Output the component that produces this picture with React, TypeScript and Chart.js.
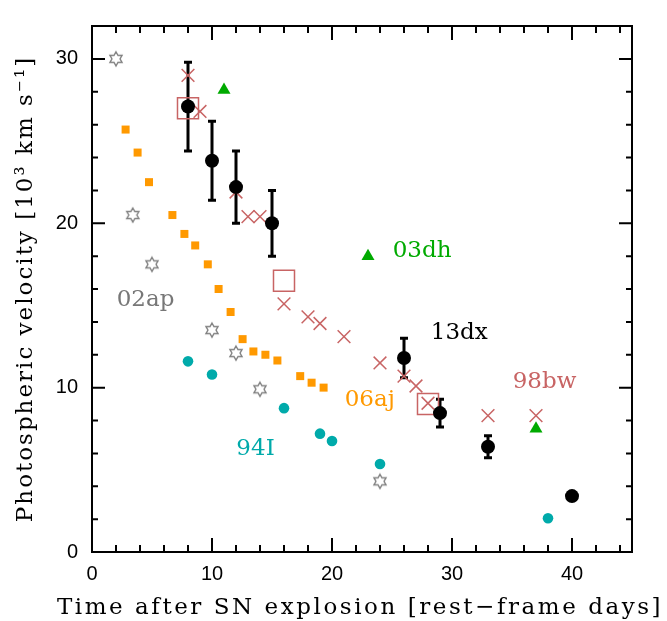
import React, { useEffect, useRef } from 'react';
import { Chart, registerables } from 'chart.js';

Chart.register(...registerables);

// ---- data (days after explosion, photospheric velocity in 10^3 km/s) ----
const sn13dxDays = [8, 10, 12, 15, 26, 29, 33, 40];
const sn13dxVel = [27.1, 23.8, 22.2, 20.0, 11.8, 8.45, 6.4, 3.4];
const sn13dxErr = [2.7, 2.4, 2.2, 2.0, 1.2, 0.85, 0.67, 0.2];

const sn98bwDays = [8, 9, 12, 13, 14, 16, 18, 19, 21, 24, 26, 27, 28, 33, 37];
const sn98bwVel = [29.0, 26.8, 21.9, 20.4, 20.4, 15.1, 14.3, 13.9, 13.1, 11.5, 10.7, 10.1, 9.05, 8.3, 8.3];

const sn98bwBoxDays = [8, 16, 28];
const sn98bwBoxVel = [27.0, 16.5, 9.0];

const sn03dhDays = [11, 23, 37];
const sn03dhVel = [28.1, 18.0, 7.5];

const sn06ajDays = [2.8, 3.8, 4.75, 6.7, 7.7, 8.6, 9.65, 10.55, 11.55, 12.55, 13.45, 14.45, 15.45, 17.35, 18.3, 19.3];
const sn06ajVel = [25.7, 24.3, 22.5, 20.5, 19.35, 18.65, 17.5, 16.0, 14.6, 12.95, 12.2, 12.0, 11.65, 10.7, 10.3, 10.0];

const sn94IDays = [8, 10, 16, 19, 20, 24, 38];
const sn94IVel = [11.6, 10.8, 8.75, 7.2, 6.75, 5.35, 2.05];

const sn02apDays = [2, 3.4, 5, 10, 12, 14, 24];
const sn02apVel = [30.0, 20.5, 17.5, 13.5, 12.1, 9.9, 4.3];

const xTickLabels = [0, 10, 20, 30, 40];
const yTickLabels = [0, 10, 20, 30];

const labelTexts = ['02ap', '03dh', '13dx', '98bw', '06aj', '94I'];

// ---- styling / layout ----
const RED = '#c86464';
const GREEN = '#00aa00';
const ORANGE = '#ff9900';
const CYAN = '#00aaaa';
const GREY = '#808080';
const labelColors = ['#777777', GREEN, '#000000', RED, ORANGE, CYAN];
// label anchors in data coordinates (left edge, baseline)
const labelAnchorX = [2.06, 25.06, 28.23, 35.06, 21.06, 12.03];
const labelAnchorY = [14.95, 17.92, 12.93, 9.96, 8.91, 5.88];

const X_MIN = 0, X_MAX = 45, Y_MIN = 0, Y_MAX = 32;
const TITLE_FONT = 'DejaVu Serif';

function makeHexagram(color: string): HTMLCanvasElement {
  const size = 18;
  const c = document.createElement('canvas');
  c.width = size;
  c.height = size;
  const g = c.getContext('2d')!;
  const cx = size / 2, cy = size / 2, R = 7, r = R / Math.sqrt(3);
  g.beginPath();
  for (let k = 0; k < 12; k++) {
    const ang = -Math.PI / 2 + (k * Math.PI) / 6;
    const rad = k % 2 === 0 ? R : r;
    const px = cx + rad * Math.cos(ang);
    const py = cy + rad * Math.sin(ang);
    if (k === 0) g.moveTo(px, py);
    else g.lineTo(px, py);
  }
  g.closePath();
  g.strokeStyle = color;
  g.lineWidth = 1.4;
  g.stroke();
  return c;
}

const pts = (xs: number[], ys: number[]) => xs.map((x, i) => ({ x, y: ys[i] }));

const decorPlugin = {
  id: 'decor',
  beforeDatasetsDraw(chart: any) {
    const { ctx } = chart;
    const xs = chart.scales.x, ys = chart.scales.y;
    ctx.save();
    ctx.strokeStyle = '#000';
    ctx.lineWidth = 3;
    sn13dxDays.forEach((d, i) => {
      const px = xs.getPixelForValue(d);
      const top = ys.getPixelForValue(sn13dxVel[i] + sn13dxErr[i]);
      const bot = ys.getPixelForValue(sn13dxVel[i] - sn13dxErr[i]);
      ctx.beginPath();
      ctx.moveTo(px, top);
      ctx.lineTo(px, bot);
      ctx.moveTo(px - 4, top);
      ctx.lineTo(px + 4, top);
      ctx.moveTo(px - 4, bot);
      ctx.lineTo(px + 4, bot);
      ctx.stroke();
    });
    ctx.restore();
  },
  afterDatasetsDraw(chart: any) {
    const { ctx, chartArea: a } = chart;
    const xs = chart.scales.x, ys = chart.scales.y;
    ctx.save();
    // frame
    ctx.strokeStyle = '#000';
    ctx.lineWidth = 2;
    ctx.strokeRect(a.left, a.top, a.right - a.left, a.bottom - a.top);
    // ticks (inward, all four sides)
    ctx.beginPath();
    for (let v = X_MIN + 2; v < X_MAX; v += 2) {
      const len = v % 10 === 0 ? 14 : 7;
      const px = xs.getPixelForValue(v);
      ctx.moveTo(px, a.bottom);
      ctx.lineTo(px, a.bottom - len);
      ctx.moveTo(px, a.top);
      ctx.lineTo(px, a.top + len);
    }
    for (let v = Y_MIN; v <= Y_MAX; v += 2) {
      const len = v % 10 === 0 ? 13 : 6;
      const py = ys.getPixelForValue(v);
      ctx.moveTo(a.left, py);
      ctx.lineTo(a.left + len, py);
      ctx.moveTo(a.right, py);
      ctx.lineTo(a.right - len, py);
    }
    ctx.stroke();

    // in-plot labels
    ctx.font = `23px "${TITLE_FONT}"`;
    ctx.textAlign = 'left';
    ctx.textBaseline = 'alphabetic';
    labelTexts.forEach((t, i) => {
      ctx.fillStyle = labelColors[i];
      ctx.fillText(t, xs.getPixelForValue(labelAnchorX[i]), ys.getPixelForValue(labelAnchorY[i]));
    });

    // axis titles
    ctx.fillStyle = '#000';
    ctx.textAlign = 'center';
    try { (ctx as any).letterSpacing = '2.55px'; } catch (e) { /* ignore */ }
    ctx.fillText('Time after SN explosion [rest\u2212frame days]', (a.left + a.right) / 2 - 2, 614);
    try { (ctx as any).letterSpacing = '2px'; } catch (e) { /* ignore */ }
    ctx.translate(32, (a.top + a.bottom) / 2);
    ctx.rotate(-Math.PI / 2);
    ctx.fillText('Photospheric velocity [10\u00b3 km s\u207b\u00b9]', 0, 0);
    ctx.restore();
  },
};

export default function App() {
  const ref = useRef<HTMLCanvasElement>(null);
  useEffect(() => {
    const star = makeHexagram(GREY);
    const chart = new Chart(ref.current!, {
      type: 'scatter',
      data: {
        datasets: [
          {
            label: '13dx',
            data: pts(sn13dxDays, sn13dxVel),
            pointStyle: 'circle',
            pointRadius: 7,
            backgroundColor: '#000',
            borderWidth: 0,
          },
          {
            label: '98bw',
            data: pts(sn98bwDays, sn98bwVel),
            pointStyle: 'crossRot',
            pointRadius: 9,
            borderColor: RED,
            borderWidth: 1.5,
          },
          {
            label: '98bw boxes',
            data: pts(sn98bwBoxDays, sn98bwBoxVel),
            pointStyle: 'rect',
            pointRadius: 14.85,
            backgroundColor: 'rgba(0,0,0,0)',
            borderColor: RED,
            borderWidth: 1.5,
          },
          {
            label: '03dh',
            data: pts(sn03dhDays, sn03dhVel),
            pointStyle: 'triangle',
            pointRadius: 7.5,
            backgroundColor: GREEN,
            borderWidth: 0,
          },
          {
            label: '06aj',
            data: pts(sn06ajDays, sn06ajVel),
            pointStyle: 'rect',
            pointRadius: 5.66,
            backgroundColor: ORANGE,
            borderWidth: 0,
          },
          {
            label: '94I',
            data: pts(sn94IDays, sn94IVel),
            pointStyle: 'circle',
            pointRadius: 5.3,
            backgroundColor: CYAN,
            borderWidth: 0,
          },
          {
            label: '02ap',
            data: pts(sn02apDays, sn02apVel),
            pointStyle: star as any,
            pointRadius: 7,
            borderWidth: 0,
          },
        ],
      },
      options: {
        animation: false,
        responsive: true,
        maintainAspectRatio: false,
        events: [],
        layout: { padding: { left: 0, top: 12, right: 35, bottom: 0 } },
        plugins: { legend: { display: false }, tooltip: { enabled: false } },
        scales: {
          x: {
            type: 'linear',
            min: X_MIN,
            max: X_MAX,
            grid: { display: false, drawTicks: false },
            border: { display: false },
            afterBuildTicks: (s: any) => {
              s.ticks = xTickLabels.map((v) => ({ value: v }));
            },
            afterFit: (s: any) => {
              s.height = 69;
            },
            ticks: {
              padding: 10,
              maxRotation: 0,
              autoSkip: false,
              color: '#000',
              font: { family: 'Liberation Sans', size: 20 },
            },
          },
          y: {
            type: 'linear',
            min: Y_MIN,
            max: Y_MAX,
            grid: { display: false, drawTicks: false },
            border: { display: false },
            afterBuildTicks: (s: any) => {
              s.ticks = yTickLabels.map((v) => ({ value: v }));
            },
            afterFit: (s: any) => {
              s.width = 92;
            },
            ticks: {
              padding: 14,
              autoSkip: false,
              color: '#000',
              font: { family: 'Liberation Sans', size: 20 },
            },
          },
        },
      },
      plugins: [decorPlugin],
    });
    return () => chart.destroy();
  }, []);
  return (
    <div style={{ position: 'fixed', left: 0, top: 0, width: 667, height: 621, background: '#fff' }}>
      <canvas ref={ref} />
    </div>
  );
}
